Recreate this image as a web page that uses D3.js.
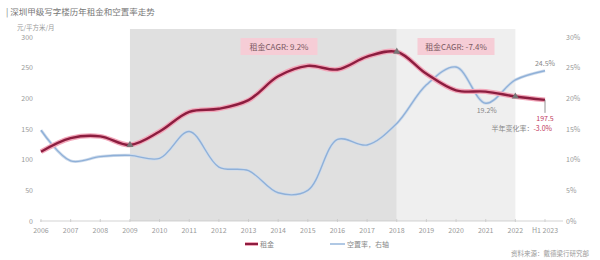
<!DOCTYPE html>
<html><head><meta charset="utf-8">
<script src="https://cdn.jsdelivr.net/npm/d3@7"></script>
<style>body{margin:0;background:#fff}svg{display:block}text{font-family:"Noto Sans CJK SC","Noto Sans",sans-serif}</style>
</head><body><svg id="c" width="600" height="260"></svg>
<script>
const years = ["2006","2007","2008","2009","2010","2011","2012","2013","2014","2015","2016","2017","2018","2019","2020","2021","2022","H1 2023"];
const rent = [113,135,138,124,146,178,183,197,236,253,247,268,276,240,213,211,203,197.5];
const vacancy = [14.8,9.8,10.5,10.7,10.2,14.6,8.8,8.2,4.6,5.0,13.3,12.4,15.9,22.2,25.1,19.2,23.0,24.5];
const leftTicks = [0,50,100,150,200,250,300];
const rightTicks = [0,5,10,15,20,25,30];
const markerYears = ["2009","2018","2022"];
const periods = [{from:"2009",to:"2018",label:"租金CAGR: 9.2%",fill:"#e0e0e0"},{from:"2018",to:"2022",label:"租金CAGR: -7.4%",fill:"#efefef"}];

const svg = d3.select("#c");
const x = d3.scalePoint().domain(years).range([41,545]);
const yL = d3.scaleLinear().domain([0,300]).range([221,37]);
const yR = d3.scaleLinear().domain([0,30]).range([221,37]);

// shaded periods
periods.forEach(p=>{
  svg.append("rect").attr("x",x(p.from)).attr("y",29).attr("width",x(p.to)-x(p.from)).attr("height",221-29).attr("fill",p.fill);
});
// CAGR labels
periods.forEach(p=>{
  const cx = p.from==="2009" ? 279 : 456;
  const w = 77;
  svg.append("rect").attr("x",cx-w/2).attr("y",38).attr("width",w).attr("height",17).attr("fill","#f6cdd6");
  svg.append("text").attr("x",cx).attr("y",50).attr("text-anchor","middle").attr("font-size",8).attr("fill","#7a5a62").text(p.label);
});

// x axis
svg.append("line").attr("x1",40).attr("x2",563).attr("y1",221).attr("y2",221).attr("stroke","#c8c8c8").attr("stroke-width",0.8);
years.forEach(yv=>{
  svg.append("line").attr("x1",x(yv)).attr("x2",x(yv)).attr("y1",219).attr("y2",222).attr("stroke","#c8c8c8").attr("stroke-width",0.8);
  svg.append("text").attr("x",x(yv)).attr("y",233).attr("text-anchor","middle").attr("font-size",7).attr("fill","#999").text(yv);
});
// left ticks
leftTicks.forEach(v=>{
  svg.append("text").attr("x",33).attr("y",yL(v)+2.5).attr("text-anchor","end").attr("font-size",7).attr("fill","#999").text(v);
});
rightTicks.forEach(v=>{
  svg.append("text").attr("x",566).attr("y",yR(v)+2.5).attr("text-anchor","start").attr("font-size",7).attr("fill","#999").text(v+"%");
});

// title / unit
svg.append("text").attr("x",6).attr("y",15).attr("font-size",8.5).attr("fill","#777").text("| 深圳甲级写字楼历年租金和空置率走势");
svg.append("text").attr("x",17).attr("y",30).attr("font-size",6.5).attr("fill","#999").text("元/平方米/月");

const curve = d3.curveCatmullRom.alpha(0.5);
const lineL = d3.line().x((d,i)=>x(years[i])).y(d=>yL(d)).curve(curve);
const lineR = d3.line().x((d,i)=>x(years[i])).y(d=>yR(d)).curve(curve);

// vacancy line
svg.append("path").attr("d",lineR(vacancy)).attr("fill","none").attr("stroke","#cfdcec").attr("stroke-width",3);
svg.append("path").attr("d",lineR(vacancy)).attr("fill","none").attr("stroke","#8fb0d8").attr("stroke-width",1.4);
// rent line
svg.append("path").attr("d",lineL(rent)).attr("fill","none").attr("stroke","#f2a7ba").attr("stroke-width",5);
svg.append("path").attr("d",lineL(rent)).attr("fill","none").attr("stroke","#8c1d3f").attr("stroke-width",2.4);

// markers
markerYears.forEach(yv=>{
  const i = years.indexOf(yv);
  svg.append("path").attr("d",d3.symbol().type(d3.symbolTriangle).size(22)()).attr("transform",`translate(${x(yv)},${yL(rent[i])})`).attr("fill","#777");
});

// annotations
const last = years.length-1;
svg.append("text").attr("x",x(years[last])).attr("y",yR(vacancy[last])-5).attr("text-anchor","middle").attr("font-size",7).attr("fill","#888").text(vacancy[last]+"%");
svg.append("text").attr("x",x("2021")+1).attr("y",yR(19.2)+10).attr("text-anchor","middle").attr("font-size",7).attr("fill","#888").text("19.2%");
svg.append("line").attr("x1",x(years[last])).attr("x2",x(years[last])).attr("y1",yL(rent[last])).attr("y2",yL(rent[last])+13).attr("stroke","#777").attr("stroke-width",0.8);
svg.append("text").attr("x",x(years[last])).attr("y",yL(rent[last])+21).attr("text-anchor","middle").attr("font-size",7).attr("fill","#c0395e").text(rent[last]);
const hc = svg.append("text").attr("x",552).attr("y",yL(rent[last])+31).attr("text-anchor","end").attr("font-size",7);
hc.append("tspan").attr("fill","#888").text("半年变化率：");
hc.append("tspan").attr("fill","#c0395e").text("-3.0%");

// legend
svg.append("line").attr("x1",245).attr("x2",258).attr("y1",244).attr("y2",244).attr("stroke","#f2a7ba").attr("stroke-width",4);
svg.append("line").attr("x1",245).attr("x2",258).attr("y1",244).attr("y2",244).attr("stroke","#8c1d3f").attr("stroke-width",2);
svg.append("text").attr("x",260).attr("y",247).attr("font-size",7).attr("fill","#888").text("租金");
svg.append("line").attr("x1",330).attr("x2",345).attr("y1",244).attr("y2",244).attr("stroke","#8fb0d8").attr("stroke-width",1.4);
svg.append("text").attr("x",347).attr("y",247).attr("font-size",7).attr("fill","#888").text("空置率，右轴");
svg.append("text").attr("x",589).attr("y",256).attr("text-anchor","end").attr("font-size",6.5).attr("fill","#999").text("资料来源：戴德梁行研究部");
</script></body></html>
